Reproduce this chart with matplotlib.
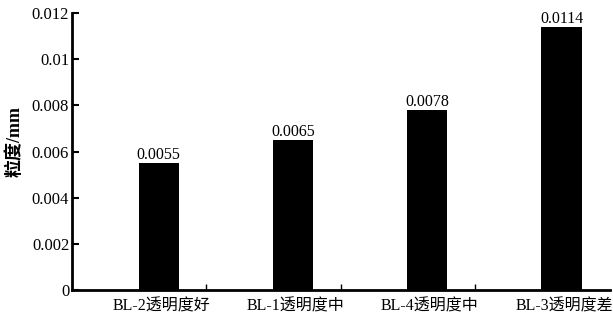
import matplotlib.pyplot as plt
import numpy as np

# particle size by sample
samples = ['BL-2透明度好', 'BL-1透明度中', 'BL-4透明度中', 'BL-3透明度差']
size_mm = [0.0055, 0.0065, 0.0078, 0.0114]
yticks = [0, 0.002, 0.004, 0.006, 0.008, 0.01, 0.012]
ytick_labels = ['0', '0.002', '0.004', '0.006', '0.008', '0.01', '0.012']

plt.rcParams['font.family'] = ['Liberation Serif', 'Noto Sans CJK SC']
plt.rcParams['axes.unicode_minus'] = False

fig = plt.figure(figsize=(6.13, 3.28), dpi=100)
ax = fig.add_axes([0.1175, 0.116, 0.8775, 0.844])

x = np.arange(len(samples))
ax.bar(x, size_mm, width=0.3, color='black')
for xi, v in zip(x, size_mm):
    ax.text(xi, v, f'{v:g}', ha='center', va='bottom', fontsize=11.5)

ax.set_xlim(-0.645, 3.36)
ax.set_ylim(0, 0.012)
ax.set_yticks(yticks)
ax.set_yticklabels(ytick_labels, fontsize=12)

# category boundaries carry the ticks, names sit under the bars
ax.set_xticks(x[:-1] + 0.355)
ax.set_xticklabels([])
ax.tick_params(axis='x', direction='in', length=4, width=1)
ax.tick_params(axis='y', direction='in', length=5, width=1.5, pad=2)
for xi, name in zip(x, samples):
    ax.annotate(name, (xi + 0.02, 0), xytext=(0, -6), textcoords='offset points',
                ha='center', va='top', fontsize=11.5)

ax.spines['top'].set_visible(False)
ax.spines['right'].set_visible(False)
ax.spines['left'].set_linewidth(2)
ax.spines['bottom'].set_linewidth(2)

fig.text(0.024, 0.57, '粒度/mm', rotation=90, ha='center', va='center',
         fontsize=13, fontweight='bold')

fig.savefig('out.png', dpi=100)
